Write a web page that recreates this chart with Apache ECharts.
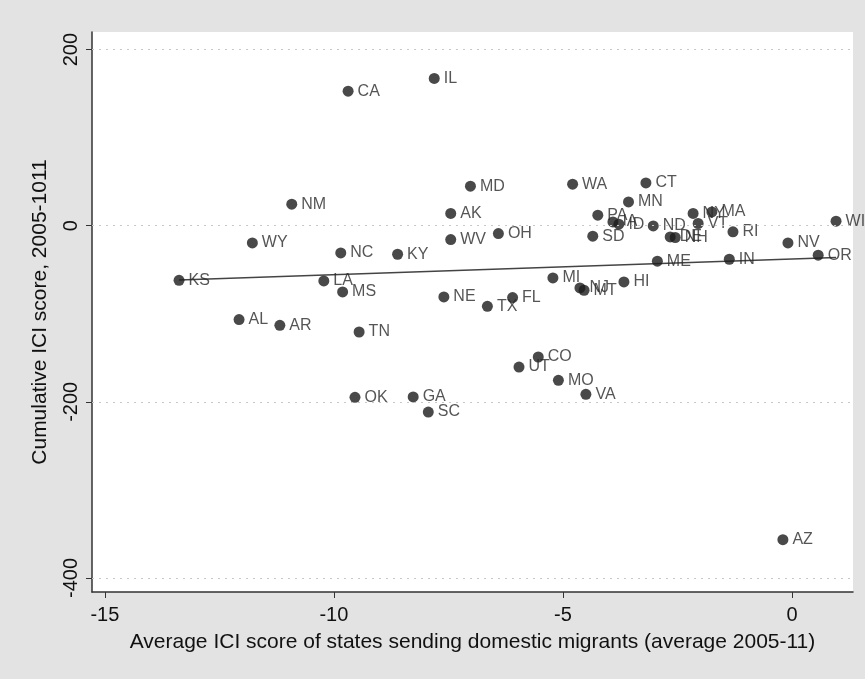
<!DOCTYPE html>
<html><head><meta charset="utf-8">
<script src="https://cdn.jsdelivr.net/npm/echarts@6/dist/echarts.min.js"></script>
<style>html,body{margin:0;padding:0;background:#e3e3e3;}#c{width:865px;height:679px;}</style>
</head><body><div id="c"></div>
<script>
var states = ["KS","CA","IL","NM","WY","NC","KY","LA","MS","AL","AR","TN","OK","GA","SC","MD","AK","WV","OH","NE","TX","FL","MI","NJ","MT","HI","ME","IN","UT","CO","MO","VA","WA","CT","MN","PA","SD","IA","ID","ND","DE","NH","NY","VT","MA","RI","NV","OR","WI","AZ"];
var xVals = [-13.38,-9.69,-7.81,-10.92,-11.78,-9.85,-8.61,-10.22,-9.81,-12.07,-11.18,-9.45,-9.54,-8.27,-7.94,-7.02,-7.45,-7.45,-6.41,-7.60,-6.65,-6.10,-5.22,-4.63,-4.54,-3.67,-2.94,-1.37,-5.96,-5.54,-5.10,-4.50,-4.79,-3.19,-3.57,-4.24,-4.35,-3.91,-3.78,-3.03,-2.66,-2.55,-2.16,-2.05,-1.75,-1.29,-0.09,0.57,0.96,-0.20];
var yVals = [-62.0,152.8,167.3,24.4,-19.5,-30.9,-32.4,-62.7,-75.2,-106.6,-113.1,-120.7,-194.9,-194.5,-211.6,44.9,13.9,-15.7,-8.9,-80.9,-91.5,-81.6,-59.3,-70.7,-73.3,-63.9,-40.3,-38.1,-160.5,-149.1,-175.6,-191.5,47.2,48.6,27.0,11.9,-11.9,4.3,1.7,-0.2,-12.7,-13.4,13.9,2.5,15.7,-7.0,-19.5,-33.5,5.1,-356.6];
var xTicks = [-15,-10,-5,0];
var yTicks = [-400,-200,0,200];

var pts = states.map(function(s,i){return {name:s, value:[xVals[i], yVals[i]]};});
// OLS fit line
var n = xVals.length, mx=0, my=0;
for (var i=0;i<n;i++){mx+=xVals[i];my+=yVals[i];}
mx/=n; my/=n;
var sxy=0,sxx=0;
for (i=0;i<n;i++){sxy+=(xVals[i]-mx)*(yVals[i]-my);sxx+=(xVals[i]-mx)*(xVals[i]-mx);}
var b=sxy/sxx, a=my-b*mx;
var xmin=Math.min.apply(null,xVals), xmax=Math.max.apply(null,xVals);
var fit=[[xmin,a+b*xmin],[xmax,a+b*xmax]];

var F = '"Liberation Sans", Arial, sans-serif';
var chart = echarts.init(document.getElementById('c'));
chart.setOption({
  backgroundColor:'#e3e3e3',
  animation:false,
  grid:{left:92, top:32, right:12, bottom:87, show:true, backgroundColor:'#ffffff', borderWidth:0},
  xAxis:{type:'value', min:-15.28, max:1.33,
    name:'Average ICI score of states sending domestic migrants (average 2005-11)',
    nameLocation:'middle', nameGap:40,
    nameTextStyle:{fontFamily:F, fontSize:21, color:'#111'},
    axisLine:{show:true, onZero:false, lineStyle:{color:'#333', width:1.5}},
    axisTick:{show:true, length:6, lineStyle:{color:'#333'}, customValues:xTicks},
    axisLabel:{fontFamily:F, fontSize:20, color:'#111', margin:13, customValues:xTicks},
    splitLine:{show:false}},
  yAxis:{type:'value', min:-416, max:220,
    name:'Cumulative ICI score, 2005-1011',
    nameLocation:'middle', nameGap:41,
    nameTextStyle:{fontFamily:F, fontSize:21, color:'#111'},
    axisLine:{show:true, onZero:false, lineStyle:{color:'#333', width:1.5}},
    axisTick:{show:true, length:6, lineStyle:{color:'#333'}, customValues:yTicks},
    axisLabel:{fontFamily:F, fontSize:20, color:'#111', margin:11, rotate:90, customValues:yTicks},
    splitLine:{show:false}},
  series:[
    {type:'line', data:fit, symbol:'none', lineStyle:{color:'#444', width:1.5}, z:2, silent:true,
     markLine:{silent:true, symbol:'none', label:{show:false},
       lineStyle:{color:'#c8c8c8', type:[2,5], width:1},
       data:yTicks.map(function(v){return {yAxis:v};})}},
    {type:'scatter', data:pts, symbolSize:11, z:3,
     itemStyle:{color:'#1c1c1c'},
     label:{show:true, position:'right', distance:4, formatter:'{b}',
       fontFamily:F, fontSize:16, color:'#2a2a2a'}}
  ]
});
</script></body></html>
